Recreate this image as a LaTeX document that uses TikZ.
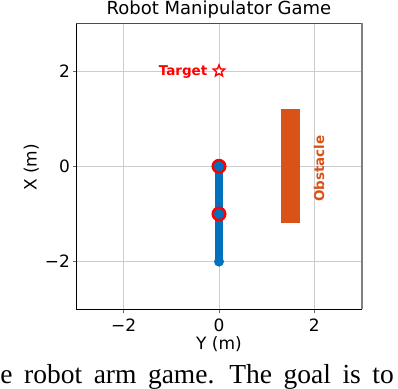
\documentclass[tikz,border=0pt]{standalone}
\usepackage{fontspec}
\setmainfont{DejaVu Sans}
\newfontfamily\captionserif{Liberation Serif}
\usetikzlibrary{positioning, shapes.geometric}
\definecolor{armblue}{RGB}{0,114,189}
\definecolor{obstorange}{RGB}{217,83,25}
\definecolor{gridgray}{RGB}{205,205,205}
\tikzset{
  ticklabel/.style={font=\fontsize{17}{17}\selectfont, inner sep=0pt},
  axislabel/.style={font=\fontsize{17}{17}\selectfont, inner sep=0pt, anchor=base},
  joint/.style={circle, draw=red, line width=2.5pt, fill=armblue, minimum size=12.5pt, inner sep=0pt},
  armtip/.style={circle, fill=armblue, minimum size=10pt, inner sep=0pt},
  marker/.style={font=\bfseries\fontsize{13.5}{13.5}\selectfont, inner sep=0pt},
  goalstar/.style={star, star points=5, star point ratio=2.3, draw=red, line width=1.4pt,
    fill=white, minimum size=12pt, inner sep=0pt}
}
\begin{document}
\begin{tikzpicture}[x=47.65pt, y=47.65pt]
  \useasboundingbox (-219pt,-221.7pt) rectangle (179pt,166.3pt);
  % grid, ticks and tick labels
  \foreach \v/\t in {-2/−2, 0/0, 2/2} {
    \draw[gridgray, line width=0.9pt] (\v,-3) -- (\v,3);
    \draw[gridgray, line width=0.9pt] (-3,\v) -- (3,\v);
    \coordinate (xt) at (\v,-3);
    \coordinate (yt) at (-3,\v);
    \draw[black!60, line width=0.8pt] (xt) -- ++(0,-3.5pt);
    \draw[black!60, line width=0.8pt] (yt) -- ++(-3.5pt,0);
    \node[ticklabel, below=9.75pt of xt] {\t};
    \node[ticklabel, left=6pt of yt] {\t};
  }
  % frame
  \draw[black, line width=1pt] (-3,3) -- (-3,-3) -- (3,-3);
  \draw[black!70, line width=1.2pt] (-3,3) -- (3,3);
  \draw[black!50, line width=2pt] (3,3) -- (3,-3);
  % obstacle
  \fill[obstorange] (1.3,-1.2) rectangle (1.7,1.2);
  \node[marker, obstorange, rotate=90] (obstacle) at (2.1,-0.05) {Obstacle};
  % target
  \node[goalstar] (target) at (0,2) {};
  \node[marker, red, anchor=base east] (goal) at ([xshift=-11.5pt, yshift=-5pt]target.center) {Target};
  % arm
  \coordinate (shoulderpt) at (0,0);
  \coordinate (handpt) at (0,-2);
  \draw[armblue, line width=7.3pt] (shoulderpt) -- (handpt);
  \node[armtip] (hand) at (handpt) {};
  \node[joint] (shoulder) at (shoulderpt) {};
  \node[joint] (elbow) at (0,-1) {};
  % titles
  \coordinate (top) at (0,3);
  \coordinate (bottom) at (0,-3);
  \coordinate (leftside) at (-3,0);
  \node[axislabel, font=\fontsize{18}{18}\selectfont] (title) at ([yshift=8.35pt]top) {Robot Manipulator Game};
  \node[axislabel] (ylabel) at ([yshift=-40pt]bottom) {Y (m)};
  \node[axislabel, rotate=90] (xlabel) at ([xshift=-39.4pt, yshift=-1.2pt]leftside) {X (m)};
  % caption fragment
  \node[anchor=base west, inner sep=0pt, font=\captionserif\fontsize{27.5}{27.5}\selectfont]
    (caption) at (-218.7pt,-217.5pt) {\spaceskip=11.5pt\xspaceskip=15pt e robot arm game. The goal is to};
\end{tikzpicture}
\end{document}
